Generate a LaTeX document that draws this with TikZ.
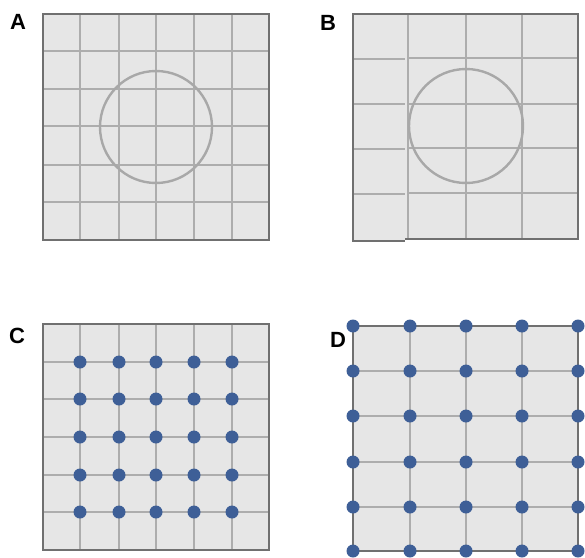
\documentclass[tikz,border=0pt]{standalone}
\usepackage{fontspec}
\setmainfont{Liberation Sans}
\usepackage{tikz}
\definecolor{panelfill}{HTML}{E6E6E6}
\definecolor{gridline}{HTML}{ADADAD}
\definecolor{frameline}{HTML}{707070}
\definecolor{ringline}{HTML}{A8A8A8}
\definecolor{dotblue}{HTML}{3E5F97}

\begin{document}
\begin{tikzpicture}[x=1pt, y=-1pt,
    every node/.style={font=\bfseries\fontsize{22}{24}\selectfont, inner sep=0pt},
    gridl/.style={gridline, line width=1.3pt},
    panelbox/.style={draw=frameline, line width=1.3pt},
    ring/.style={ringline, line width=2.4pt},
    site/.style={fill=dotblue}]
    \useasboundingbox (0,0) rectangle (585,557);
    \clip (0,0) rectangle (585,557);

    % panel A: 6x6 grid with ring
    \fill[panelfill] (43,14) rectangle (269,240);
    \foreach \x in {80,119,156,194,232} \draw[gridl] (\x,14) -- (\x,240);
    \foreach \y in {51,89,126,165,202} \draw[gridl] (43,\y) -- (269,\y);
    \draw[ring] (156,127) circle (56);
    \draw[panelbox] (43,14) rectangle (269,240);
    \node (labA) at (18,22) {A};

    % panel B: 4x5 grid, left strip slightly shifted
    \fill[panelfill] (353,14) rectangle (405,241);
    \fill[panelfill] (405,14) rectangle (578,239);
    \foreach \x in {408,466,522} \draw[gridl] (\x,14) -- (\x,239);
    \foreach \y in {58,104,148,193} \draw[gridl] (408,\y) -- (578,\y);
    \foreach \y in {59,104,149,194} \draw[gridl] (353,\y) -- (405,\y);
    \draw[ring] (466,126) circle (57);
    \draw[panelbox] (405,239) -- (578,239) -- (578,14) -- (353,14) -- (353,241) -- (405,241);
    \node (labB) at (328,23) {B};

    % panel C: 6x6 grid, sites on inner crossings
    \fill[panelfill] (43,324) rectangle (269,550);
    \foreach \x in {80,119,156,194,232} \draw[gridl] (\x,324) -- (\x,550);
    \foreach \y in {362,399,437,475,512} \draw[gridl] (43,\y) -- (269,\y);
    \draw[panelbox] (43,324) rectangle (269,550);
    \foreach \x in {80,119,156,194,232}
        \foreach \y in {362,399,437,475,512}
            \fill[site] (\x,\y) circle (6.5);
    \node (labC) at (17,336) {C};

    % panel D: 4x5 grid, sites on every crossing
    \fill[panelfill] (353,326) rectangle (578,551);
    \foreach \x in {410,466,522} \draw[gridl] (\x,326) -- (\x,551);
    \foreach \y in {371,416,462,507} \draw[gridl] (353,\y) -- (578,\y);
    \draw[panelbox] (353,326) rectangle (578,551);
    \foreach \x in {353,410,466,522,578}
        \foreach \y in {326,371,416,462,507,551}
            \fill[site] (\x,\y) circle (6.5);
    \node (labD) at (338,340) {D};
\end{tikzpicture}
\end{document}
